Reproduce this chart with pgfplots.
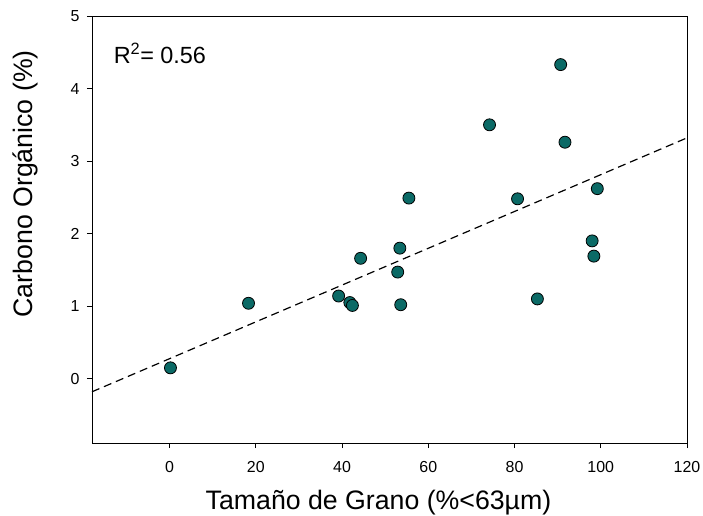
\documentclass[border=0pt]{standalone}
\usepackage{fontspec}
\setmainfont{Liberation Sans}
\usepackage{pgfplots}
\pgfplotsset{compat=1.18}
\definecolor{pt}{HTML}{0B6A66}
\begin{document}
\begin{tikzpicture}
\begin{axis}[
 scale only axis, width=595bp, height=427bp,
 xmin=-18, xmax=120, ymin=-0.886, ymax=5,
 xtick={0,20,...,120}, ytick={0,1,2,3,4,5},
 tick align=outside, xtick pos=bottom, ytick pos=left,
 major tick length=5bp,
 tick style={black, line width=0.8pt},
 axis line style={line width=1pt},
 ticklabel style={font=\fontsize{16}{19}\selectfont},
 xticklabel style={yshift=-10bp},
 yticklabel style={xshift=-4bp},
 /pgf/number format/assume math mode=true,
 xlabel={Tamaño de Grano (\%<63µm)},
 ylabel={Carbono Orgánico (\%)},
 xlabel style={font=\fontsize{26.8}{31}\selectfont, at={(axis description cs:0.4815,-0.155)}, anchor=base},
 ylabel style={font=\fontsize{26.8}{31}\selectfont, at={(axis description cs:-0.0992,0.607)}, anchor=base, rotate=0},
]
\addplot[black, line width=1.2pt, dash pattern=on 8bp off 5bp] coordinates {(-18,-0.18) (120,3.32)};
\addplot[only marks, mark=*, mark size=6bp, mark options={fill=pt, draw=black, line width=0.8pt}] table {
x y
0.2 0.15
18.3 1.04
39.2 1.14
41.8 1.05
42.4 1.01
44.3 1.66
52.9 1.47
53.4 1.80
53.6 1.02
55.5 2.49
74.2 3.50
80.7 2.48
85.3 1.10
90.7 4.33
91.7 3.26
98.0 1.90
98.4 1.69
99.2 2.62
};
\node[anchor=base west, inner sep=0, font=\fontsize{23.5}{27}\selectfont] at (axis cs:-13.0,4.35) {R\textsuperscript{2}= 0.56};
\end{axis}
\pgfresetboundingbox
\useasboundingbox ([xshift=-92bp,yshift=-73bp]current axis.south west) rectangle ([xshift=16bp,yshift=16bp]current axis.north east);
\end{tikzpicture}
\end{document}
